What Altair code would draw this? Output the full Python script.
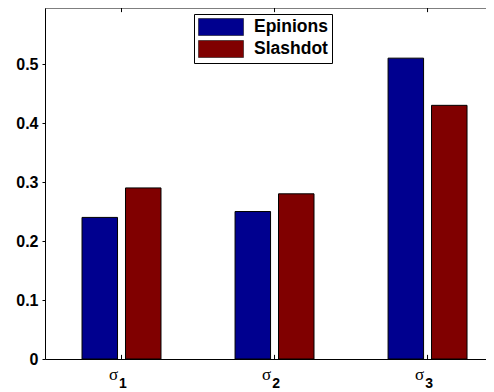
import altair as alt
import pandas as pd

# ---- data ----
categories = ["σ1", "σ2", "σ3"]
cat_symbol = ["σ", "σ", "σ"]
cat_sub = ["1", "2", "3"]
series = ["Epinions", "Slashdot"]
epinions = [0.24, 0.25, 0.51]
slashdot = [0.29, 0.28, 0.43]
colors = ["#00008F", "#800000"]
y_ticks = [0, 0.1, 0.2, 0.3, 0.4, 0.5]
x_ticks = [1, 2, 3]

# ---- layout constants ----
XMIN, XMAX = 0.5, 3.382
YMAX = 0.595
group_offsets = [-0.142, 0.142]
BAR_HALF = 0.116
W, H = 441, 351

rows = []
for i, c in enumerate(categories):
    for s, vals, off in zip(series, [epinions, slashdot], group_offsets):
        rows.append({"cat": c, "series": s, "value": vals[i], "pos": i + 1 + off})
df = pd.DataFrame(rows)

xs = alt.Scale(domain=[XMIN, XMAX], nice=False, zero=False)
ys = alt.Scale(domain=[0, YMAX], nice=False)

legend = alt.Legend(
    title=None, orient="none", legendX=149, legendY=6,
    fillColor="white", strokeColor="black",
    padding=4, cornerRadius=0,
    symbolType="M-2.65,-1H2.65V1H-2.65Z", symbolSize=289,
    symbolStrokeColor="black", symbolStrokeWidth=0.5,
    symbolOffset=14, labelOffset=24,
    labelFont="Liberation Sans", labelFontWeight="bold", labelFontSize=17.5,
    labelColor="black", rowPadding=2,
)

bars = alt.Chart(df).transform_calculate(
    x0=f"datum.pos - {BAR_HALF}", x1=f"datum.pos + {BAR_HALF}"
).mark_bar(stroke="black", strokeWidth=1, opacity=1).encode(
    x=alt.X("x0:Q", scale=xs, axis=alt.Axis(
        title=None, labels=False, ticks=False, grid=False,
        domainColor="black", domainWidth=1)),
    x2="x1:Q",
    y=alt.Y("value:Q", scale=ys, axis=alt.Axis(
        title=None, values=y_ticks, format=".1~f", grid=False,
        labelFont="Liberation Sans", labelFontWeight="bold", labelFontSize=16,
        labelColor="black", labelPadding=4, tickSize=3, tickColor="black",
        domainColor="black", domainWidth=1)),
    y2=alt.datum(0),
    color=alt.Color("series:N", scale=alt.Scale(domain=series, range=colors),
                    legend=legend),
)

frame_df = pd.DataFrame({"x": [XMIN], "x2": [XMAX], "y": [YMAX]})
top_border = alt.Chart(frame_df).mark_rule(color="black", strokeWidth=1).encode(
    x=alt.X("x:Q", scale=xs), x2="x2:Q", y=alt.Y("y:Q", scale=ys))

tick_df = pd.DataFrame({"x": x_ticks, "b0": [0] * 3, "b1": [0.007] * 3,
                        "t0": [YMAX] * 3, "t1": [YMAX - 0.007] * 3})
bottom_ticks = alt.Chart(tick_df).mark_rule(color="black", strokeWidth=1).encode(
    x=alt.X("x:Q", scale=xs), y=alt.Y("b0:Q", scale=ys), y2="b1:Q")
top_ticks = alt.Chart(tick_df).mark_rule(color="black", strokeWidth=1).encode(
    x=alt.X("x:Q", scale=xs), y=alt.Y("t0:Q", scale=ys), y2="t1:Q")

lab_df = pd.DataFrame({"x": x_ticks, "sym": cat_symbol, "sub": cat_sub})
sym_text = alt.Chart(lab_df).mark_text(
    font="Liberation Serif", fontSize=17, color="black", dx=-8,
    align="center", baseline="alphabetic").encode(
    x=alt.X("x:Q", scale=xs), y=alt.value(H + 21), text="sym:N")
sub_text = alt.Chart(lab_df).mark_text(
    font="Liberation Sans", fontWeight="bold", fontSize=14, color="black", dx=1.5,
    align="center", baseline="alphabetic").encode(
    x=alt.X("x:Q", scale=xs), y=alt.value(H + 29), text="sub:N")

chart = alt.layer(bars, top_border, bottom_ticks, top_ticks, sym_text, sub_text).properties(
    width=W, height=H,
    padding={"left": 37, "top": 0, "right": 0, "bottom": 32},
    autosize=alt.AutoSizeParams(type="none"),
    background="white",
).configure_view(stroke=None)

chart.save("out.html", embed_options={"renderer": "svg", "actions": False})
